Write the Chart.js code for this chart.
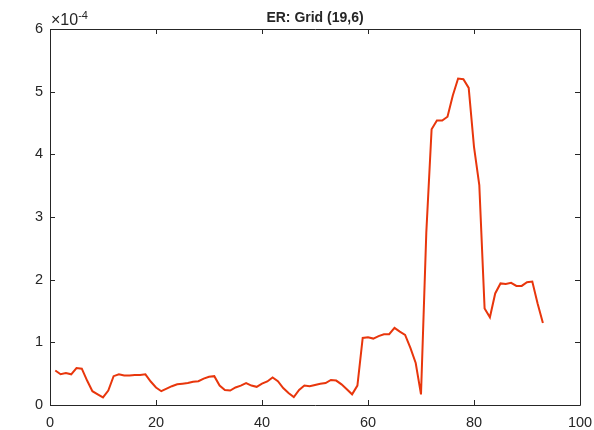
<!DOCTYPE html>
<html>
<head>
<meta charset="utf-8">
<script src="https://cdn.jsdelivr.net/npm/chart.js@4"></script>
<style>
  html, body { margin: 0; padding: 0; background: #fff; }
  #wrap { width: 594px; height: 430px; }
</style>
</head>
<body>
<div id="wrap"><canvas id="er"></canvas></div>
<script>
// ER values in units of 1e-4, one per step
const steps = Array.from({length: 93}, (_, i) => i + 1);
const er = [
  0.55, 0.49, 0.51, 0.49, 0.59, 0.58, 0.39, 0.22, 0.17, 0.12,
  0.23, 0.46, 0.49, 0.47, 0.47, 0.48, 0.48, 0.49, 0.375, 0.28,
  0.22, 0.26, 0.30, 0.33, 0.34, 0.35, 0.37, 0.38, 0.42, 0.45,
  0.46, 0.31, 0.24, 0.23, 0.28, 0.31, 0.35, 0.31, 0.29, 0.34,
  0.375, 0.44, 0.38, 0.27, 0.19, 0.125, 0.24, 0.31, 0.30, 0.32,
  0.34, 0.35, 0.40, 0.39, 0.33, 0.25, 0.17, 0.31, 1.07, 1.08,
  1.06, 1.10, 1.13, 1.13, 1.23, 1.17, 1.12, 0.91, 0.67, 0.17,
  2.75, 4.40, 4.54, 4.54, 4.60, 4.94, 5.21, 5.20, 5.06, 4.12,
  3.51, 1.54, 1.40, 1.78, 1.94, 1.93, 1.95, 1.90, 1.90, 1.96,
  1.97, 1.62, 1.31
];
const xTicks = [0, 20, 40, 60, 80, 100];
const yTicks = [0, 1, 2, 3, 4, 5, 6];

const axisColor = '#262626';
const fontFamily = 'Helvetica, "Liberation Sans", Arial, sans-serif';

// box, inward tick marks, title and exponent label, MATLAB style
const matlabAxes = {
  id: 'matlabAxes',
  afterDraw(chart) {
    const {ctx, chartArea: a, scales: {x, y}} = chart;
    const len = 5;
    ctx.save();
    ctx.strokeStyle = axisColor;
    ctx.lineWidth = 1;
    ctx.beginPath();
    ctx.rect(Math.round(a.left) + 0.5, Math.round(a.top) + 0.5,
             Math.round(a.right - a.left), Math.round(a.bottom - a.top));
    xTicks.forEach(v => {
      const px = Math.round(x.getPixelForValue(v)) + 0.5;
      ctx.moveTo(px, a.bottom); ctx.lineTo(px, a.bottom - len);
      ctx.moveTo(px, a.top); ctx.lineTo(px, a.top + len);
    });
    yTicks.forEach(v => {
      const py = Math.round(y.getPixelForValue(v)) + 0.5;
      ctx.moveTo(a.left, py); ctx.lineTo(a.left + len, py);
      ctx.moveTo(a.right, py); ctx.lineTo(a.right - len, py);
    });
    ctx.stroke();

    ctx.fillStyle = axisColor;
    ctx.textBaseline = 'alphabetic';
    ctx.font = 'bold 14px ' + fontFamily;
    ctx.textAlign = 'center';
    ctx.fillText('ER: Grid (19,6)', (a.left + a.right) / 2, 22);

    ctx.textAlign = 'left';
    ctx.font = '16px ' + fontFamily;
    ctx.fillText('\u00d710', a.left + 1, 25);
    const w = ctx.measureText('\u00d710').width;
    ctx.font = '11px ' + fontFamily;
    ctx.fillText('-4', a.left + 1 + w, 19);
    ctx.restore();
  }
};

new Chart(document.getElementById('er'), {
  type: 'line',
  data: {
    datasets: [{
      data: steps.map((s, i) => ({x: s, y: er[i]})),
      borderColor: '#e8360c',
      borderWidth: 2,
      pointRadius: 0,
      tension: 0,
      fill: false
    }]
  },
  options: {
    responsive: true,
    maintainAspectRatio: false,
    animation: false,
    layout: { padding: { top: 29, right: 14, left: 0, bottom: 0 } },
    plugins: { legend: { display: false }, tooltip: { enabled: false } },
    scales: {
      x: {
        type: 'linear',
        min: 0, max: 100,
        afterFit(scale) {
          scale.height = 25;
          scale.paddingLeft = 0;
          scale.paddingRight = 0;
        },
        afterBuildTicks(scale) { scale.ticks = xTicks.map(v => ({value: v})); },
        grid: { display: false, drawTicks: false },
        border: { display: false },
        ticks: { color: axisColor, padding: 9, maxRotation: 0,
                 font: { family: fontFamily, size: 14.5 } }
      },
      y: {
        min: 0, max: 6,
        afterFit(scale) {
          scale.width = 50;
          scale.paddingTop = 0;
          scale.paddingBottom = 0;
        },
        afterBuildTicks(scale) { scale.ticks = yTicks.map(v => ({value: v})); },
        grid: { display: false, drawTicks: false },
        border: { display: false },
        ticks: { color: axisColor, padding: 7,
                 font: { family: fontFamily, size: 14.5 } }
      }
    }
  },
  plugins: [matlabAxes]
});
</script>
</body>
</html>
